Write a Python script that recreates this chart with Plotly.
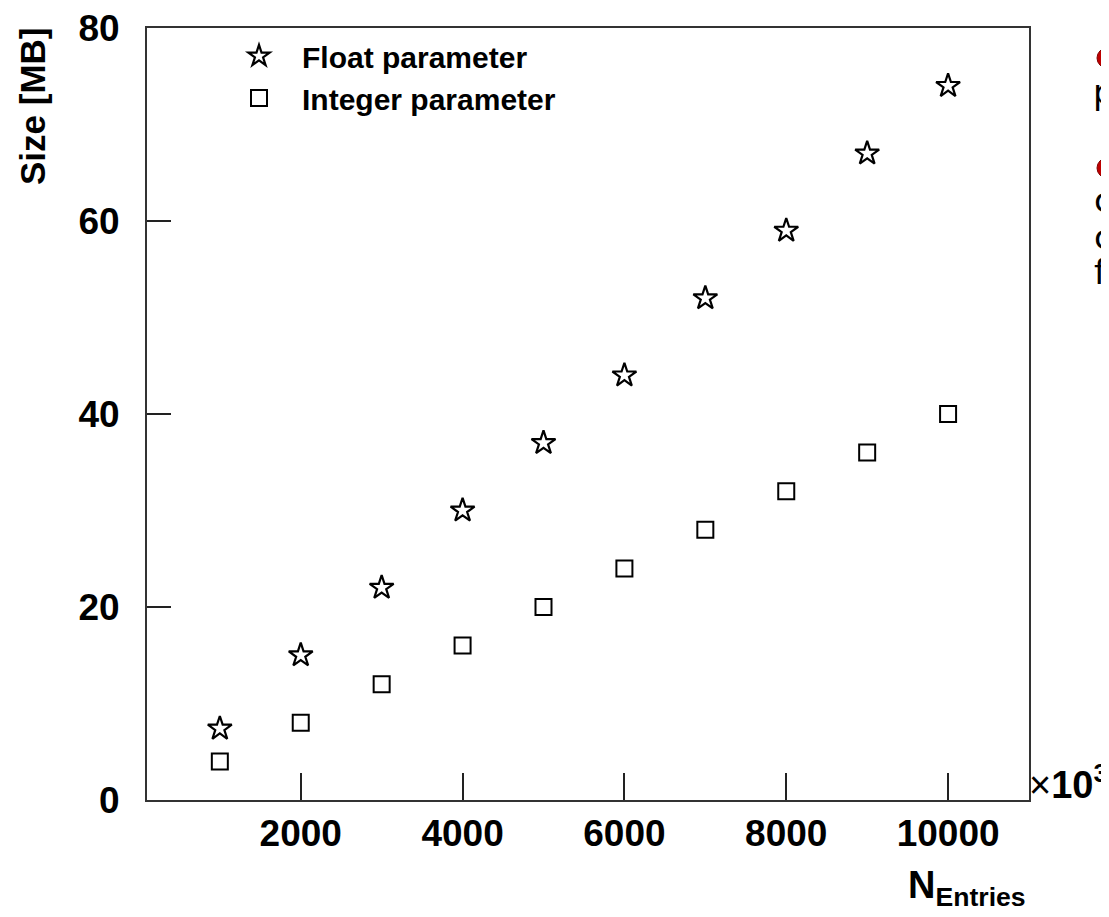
import plotly.graph_objects as go

n_entries = [1000, 2000, 3000, 4000, 5000, 6000, 7000, 8000, 9000, 10000]
float_size = [7.4, 15, 22, 30, 37, 44, 52, 59, 67, 74]
int_size = [4, 8, 12, 16, 20, 24, 28, 32, 36, 40]
x_ticks = [2000, 4000, 6000, 8000, 10000]
y_ticks = [0, 20, 40, 60, 80]

FONT = "Liberation Sans"

# page body has an 8px default margin; plot area should sit at x 147..1029, y 28..800
L, T, PW, PH = 147, 28, 882, 772
OFF = 8


def px(xp):
    return (xp - L) / PW


def py(yp):
    return (T + PH - yp) / PH


fig = go.Figure()
fig.add_trace(go.Scatter(
    x=n_entries, y=float_size, mode="markers", name="Float parameter",
    marker=dict(symbol="star-open", size=18, color="black", line=dict(width=2.2, color="black")),
))
fig.add_trace(go.Scatter(
    x=n_entries, y=int_size, mode="markers", name="Integer parameter",
    marker=dict(symbol="square-open", size=16, color="black", line=dict(width=2, color="black")),
))

axis_common = dict(
    showgrid=False, zeroline=False, showline=True, linewidth=2, linecolor="#333333",
    mirror=True, ticks="inside", tickwidth=2, tickcolor="#222222",
    ticklabeloverflow="allow", automargin=False,
    tickfont=dict(family=FONT, size=37, color="black", weight="bold"),
)
fig.update_xaxes(range=[100, 11000], tickvals=x_ticks, ticktext=[str(v) for v in x_ticks],
                 ticklen=27, **axis_common)
fig.update_yaxes(range=[0, 80], tickvals=y_ticks, ticktext=[str(v) for v in y_ticks],
                 ticklen=24, ticklabelstandoff=18, **axis_common)

bullet = dict(type="circle", xref="paper", yref="paper",
              fillcolor="#c00000", line=dict(color="#800000", width=1))

slide_font = dict(family="DejaVu Sans", size=34, color="black")

fig.update_layout(
    width=L - OFF + PW + 80, height=T - OFF + PH + 117,
    margin=dict(l=L - OFF, r=80, t=T - OFF, b=117, autoexpand=False),
    paper_bgcolor="white", plot_bgcolor="white",
    showlegend=True,
    legend=dict(x=px(216), y=py(30), xanchor="left", yanchor="top",
                bgcolor="rgba(0,0,0,0)", itemwidth=76, tracegroupgap=0,
                font=dict(family=FONT, size=30, color="black", weight="bold")),
    annotations=[
        dict(text="Size [MB]", xref="paper", yref="paper", x=px(33), y=py(25),
             xanchor="center", yanchor="top", textangle=-90, showarrow=False,
             font=dict(family=FONT, size=35, color="black", weight="bold")),
        dict(text="N<sub>Entries</sub>", xref="paper", yref="paper", x=px(1028), y=py(862),
             xanchor="right", yanchor="top", showarrow=False,
             font=dict(family=FONT, size=38, color="black", weight="bold")),
        dict(text="<span style='font-weight:normal'>×</span>10<sup>3</sup>", xref="paper", yref="paper",
             x=px(1027), y=py(782), xanchor="left", yanchor="middle", showarrow=False,
             font=dict(family=FONT, size=38, color="black", weight="bold")),
        dict(text="p", xref="paper", yref="paper", x=px(1091), y=py(92),
             xanchor="left", yanchor="middle", showarrow=False, font=slide_font),
        dict(text="c", xref="paper", yref="paper", x=px(1092), y=py(200),
             xanchor="left", yanchor="middle", showarrow=False, font=slide_font),
        dict(text="c", xref="paper", yref="paper", x=px(1092), y=py(237),
             xanchor="left", yanchor="middle", showarrow=False, font=slide_font),
        dict(text="f", xref="paper", yref="paper", x=px(1092), y=py(272),
             xanchor="left", yanchor="middle", showarrow=False, font=slide_font),
    ],
    shapes=[
        dict(x0=px(1097), x1=px(1117), y0=py(48), y1=py(68), **bullet),
        dict(x0=px(1097), x1=px(1117), y0=py(158), y1=py(178), **bullet),
    ],
)

fig.write_html("out.html")
